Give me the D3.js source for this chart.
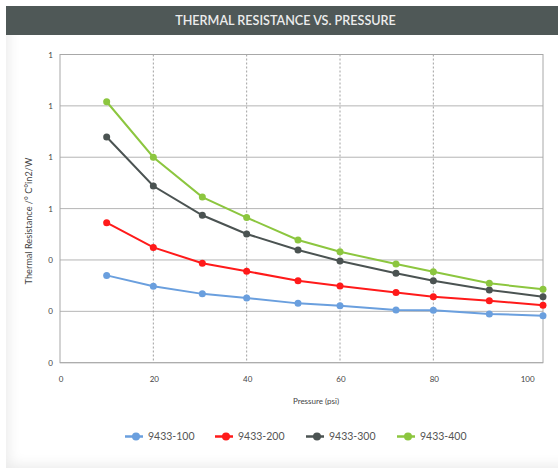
<!DOCTYPE html>
<html>
<head>
<meta charset="utf-8">
<script src="https://cdn.jsdelivr.net/npm/d3@7"></script>
<style>
  body { margin: 0; background: #fff; font-family: Lato, "Open Sans", sans-serif; }
  #chart { position: relative; width: 558px; height: 468px; overflow: hidden; }
  .panel {
    position: absolute; left: 6px; top: 35px; width: 552px; height: 433px;
    background: #fff;
    box-shadow: inset 10px -10px 14px -8px rgba(0,0,0,0.09);
  }
  svg { position: absolute; left: 0; top: 0; }
</style>
</head>
<body>
<div id="chart"><div class="panel"></div></div>
<script>
const pressure = [10, 20, 30.5, 40, 51, 60, 72, 80, 92, 103.5];
const r100 = [0.340, 0.298, 0.268, 0.252, 0.231, 0.222, 0.205, 0.204, 0.190, 0.183];
const r200 = [0.545, 0.449, 0.387, 0.356, 0.319, 0.299, 0.273, 0.257, 0.241, 0.224];
const r300 = [0.879, 0.688, 0.574, 0.501, 0.439, 0.396, 0.348, 0.319, 0.283, 0.257];
const r400 = [1.016, 0.800, 0.645, 0.565, 0.478, 0.432, 0.384, 0.354, 0.309, 0.286];
const seriesNames = ["9433-100", "9433-200", "9433-300", "9433-400"];
const seriesColors = ["#6a9fde", "#ff1a1a", "#4b5352", "#8cc63f"];
const xTicks = [0, 20, 40, 60, 80, 100];
const yTicks = [0, 0.2, 0.4, 0.6, 0.8, 1.0, 1.2];

const width = 558, height = 468;
const series = [r100, r200, r300, r400].map((vals, i) => ({
  name: seriesNames[i],
  color: seriesColors[i],
  points: vals.map((v, j) => ({ x: pressure[j], y: v }))
}));

const svg = d3.select("#chart").append("svg")
  .attr("width", width)
  .attr("height", height);

// title bar
svg.append("rect")
  .attr("x", 6).attr("y", 6)
  .attr("width", width - 6).attr("height", 29)
  .attr("fill", "#4f5857");
svg.append("text")
  .attr("x", 285.5).attr("y", 25)
  .attr("text-anchor", "middle")
  .attr("fill", "#ececec")
  .style("font-size", "12.6px")
  .style("font-weight", "600")
  .text("THERMAL RESISTANCE VS. PRESSURE");

const x = d3.scaleLinear().domain([0, 103.5]).range([60, 543]);
const y = d3.scaleLinear().domain([0, 1.2]).range([362.7, 54.5]);

// horizontal grid
svg.append("g")
  .selectAll("line")
  .data(yTicks)
  .join("line")
  .attr("x1", x(0)).attr("x2", x(103.5))
  .attr("y1", d => y(d)).attr("y2", d => y(d))
  .attr("stroke", "#b5b5b5")
  .attr("stroke-width", 1);

// vertical dotted grid
svg.append("g")
  .selectAll("line")
  .data(xTicks.filter(d => d > 0 && d < 100))
  .join("line")
  .attr("x1", d => x(d)).attr("x2", d => x(d))
  .attr("y1", y(1.2)).attr("y2", y(0))
  .attr("stroke", "#a0a0a0")
  .attr("stroke-width", 1)
  .attr("stroke-dasharray", "2,2");

// frame
svg.append("rect")
  .attr("x", x(0)).attr("y", y(1.2))
  .attr("width", x(103.5) - x(0))
  .attr("height", y(0) - y(1.2))
  .attr("fill", "none")
  .attr("stroke", "#a8a8a8")
  .attr("stroke-width", 1);

// y tick labels
svg.append("g")
  .selectAll("text")
  .data(yTicks)
  .join("text")
  .attr("x", 53)
  .attr("y", d => y(d) + 3)
  .attr("text-anchor", "end")
  .attr("fill", "#444")
  .style("font-size", "8px")
  .text(d => d3.format(".0f")(d));

// x tick labels
svg.append("g")
  .selectAll("text")
  .data(xTicks)
  .join("text")
  .attr("x", d => x(d) + 1)
  .attr("y", 382)
  .attr("text-anchor", "middle")
  .attr("fill", "#444")
  .style("font-size", "8px")
  .text(d => d);

// axis titles
svg.append("text")
  .attr("x", 316).attr("y", 404)
  .attr("text-anchor", "middle")
  .attr("fill", "#444")
  .style("font-size", "8px")
  .text("Pressure (psi)");

svg.append("text")
  .attr("transform", "translate(32,221) rotate(-90)")
  .attr("text-anchor", "middle")
  .attr("fill", "#444")
  .style("font-size", "9.2px")
  .text("Thermal Resistance /° C°in2/W");

// lines and points
const line = d3.line().x(d => x(d.x)).y(d => y(d.y));

const sg = svg.append("g")
  .selectAll("g")
  .data(series)
  .join("g");

sg.append("path")
  .attr("d", d => line(d.points))
  .attr("fill", "none")
  .attr("stroke", d => d.color)
  .attr("stroke-width", 2);

sg.selectAll("circle")
  .data(d => d.points.map(p => ({ ...p, color: d.color })))
  .join("circle")
  .attr("cx", d => x(d.x))
  .attr("cy", d => y(d.y))
  .attr("r", 3.5)
  .attr("fill", d => d.color);

// legend
const legendX = [125, 215, 306, 397];
const lg = svg.append("g")
  .selectAll("g")
  .data(series)
  .join("g")
  .attr("transform", (d, i) => `translate(${legendX[i]},436.5)`);

lg.append("line")
  .attr("x1", 0).attr("x2", 18)
  .attr("stroke", d => d.color)
  .attr("stroke-width", 2.5);
lg.append("circle")
  .attr("cx", 11).attr("r", 4)
  .attr("fill", d => d.color);
lg.append("text")
  .attr("x", 23).attr("y", 3.8)
  .attr("fill", "#555")
  .style("font-size", "10.5px")
  .text(d => d.name);
</script>
</body>
</html>
